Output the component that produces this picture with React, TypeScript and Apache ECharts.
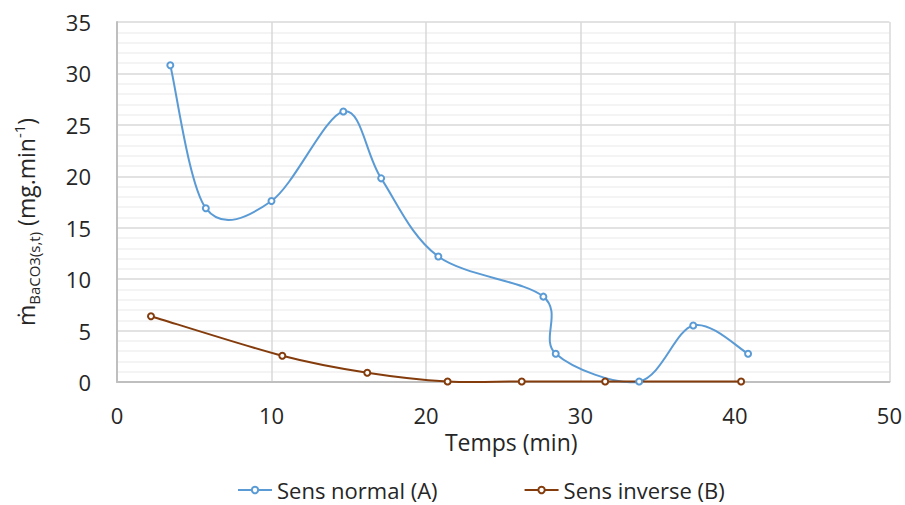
import React, { useEffect, useRef } from "react";
import * as echarts from "echarts";

const normalX = [3.45, 5.75, 10.0, 14.65, 17.1, 20.8, 27.6, 28.4, 33.8, 37.3, 40.85];
const normalY = [30.8, 16.9, 17.6, 26.3, 19.8, 12.2, 8.3, 2.75, 0.05, 5.5, 2.75];
const inverseX = [2.2, 10.7, 16.2, 21.4, 26.2, 31.6, 40.4];
const inverseY = [6.4, 2.55, 0.9, 0.05, 0.05, 0.05, 0.05];
const seriesNames = ["Sens normal (A)", "Sens inverse (B)"];
const seriesColors = ["#5B9BD5", "#843C0C"];
const xTitle = "Temps (min)";

const FONT = "'Open Sans', sans-serif";

type Pt = number[];

// Excel-like smoothed segment (Bezier with 1/6 tension, capped at half the segment)
function excelSegment(pts: Pt[], idx: number) {
  const n = pts.length;
  const p0 = pts[Math.max(idx - 2, 0)];
  const p1 = pts[idx - 1];
  const p2 = pts[idx];
  const p3 = pts[Math.min(idx + 1, n - 1)];
  const d = (a: Pt, b: Pt) => Math.hypot(a[0] - b[0], a[1] - b[1]);
  const d12 = d(p1, p2);
  const d02 = d(p0, p2);
  const d13 = d(p1, p3);
  let f1 = 1 / 6;
  let f2 = 1 / 6;
  if (d02 > 0 && d02 / 6 > d12 / 2) f1 = d12 / (2 * d02);
  if (d13 > 0 && d13 / 6 > d12 / 2) f2 = d12 / (2 * d13);
  const c1 = [p1[0] + f1 * (p2[0] - p0[0]), p1[1] + f1 * (p2[1] - p0[1])];
  const c2 = [p2[0] - f2 * (p3[0] - p1[0]), p2[1] - f2 * (p3[1] - p1[1])];
  return `M${p1[0]},${p1[1]} C${c1[0]},${c1[1]} ${c2[0]},${c2[1]} ${p2[0]},${p2[1]}`;
}

export default function App() {
  const ref = useRef<HTMLDivElement>(null);
  useEffect(() => {
    if (!ref.current) return;
    const chart = echarts.init(ref.current, undefined, { renderer: "svg" });
    const pair = (xs: number[], ys: number[]) => xs.map((x, i) => [x, ys[i]]);
    const curve = (xs: number[], ys: number[], color: string, z: number) => ({
      type: "custom",
      coordinateSystem: "cartesian2d",
      silent: true,
      z,
      data: pair(xs, ys),
      encode: { x: 0, y: 1 },
      renderItem: (params: any, api: any) => {
        const idx = params.dataIndex;
        if (idx === 0) return null;
        const pts = xs.map((x, i) => api.coord([x, ys[i]]));
        return {
          type: "path",
          shape: { pathData: excelSegment(pts, idx) },
          style: { fill: "none", stroke: color, lineWidth: 2 },
        };
      },
    });
    const markers = (name: string, xs: number[], ys: number[], color: string, z: number) => ({
      name,
      type: "line",
      data: pair(xs, ys),
      symbol: "emptyCircle",
      symbolSize: 6,
      color,
      lineStyle: { color, width: 0 },
      itemStyle: { color, borderWidth: 1.5 },
      z,
    });
    chart.setOption({
      animation: false,
      backgroundColor: "#ffffff",
      textStyle: { fontFamily: FONT },
      grid: { left: 117, right: 14, top: 22, bottom: 123, containLabel: false },
      legend: {
        top: 474,
        left: 232,
        itemWidth: 34,
        itemHeight: 8,
        itemGap: 86,
        textStyle: { fontFamily: FONT, fontSize: 22, color: "#262626" },
        data: seriesNames.map((name, i) => ({
          name,
          lineStyle: { color: seriesColors[i], width: 2, opacity: 1 },
        })),
      },
      xAxis: {
        type: "value",
        min: 0,
        max: 50,
        interval: 10,
        name: xTitle,
        nameLocation: "middle",
        nameGap: 47,
        nameTextStyle: { fontFamily: FONT, fontSize: 23, color: "#262626", padding: [0, 0, 0, 16] },
        axisLine: { show: true, lineStyle: { color: "#bfbfbf", width: 2 } },
        axisTick: { show: false },
        axisLabel: { fontFamily: FONT, fontSize: 22, color: "#262626", margin: 22 },
        splitLine: { show: true, lineStyle: { color: "#d9d9d9", width: 1.5 } },
      },
      yAxis: {
        type: "value",
        min: 0,
        max: 35,
        interval: 5,
        axisLine: { show: true, lineStyle: { color: "#bfbfbf", width: 2 } },
        axisTick: { show: false },
        axisLabel: { fontFamily: FONT, fontSize: 22, color: "#262626", margin: 26 },
        splitLine: { show: true, lineStyle: { color: "#d9d9d9", width: 1.5 } },
        minorTick: { show: false, splitNumber: 5 },
        minorSplitLine: { show: true, lineStyle: { color: "#f0f0f0", width: 1.5 } },
      },
      graphic: [
        {
          type: "text",
          x: 26,
          y: 222,
          rotation: Math.PI / 2,
          style: {
            text: "{m|ṁ}{sub|BaCO3(s,t)}{m| (mg.min}{sup|-1}{m|)}",
            align: "center",
            verticalAlign: "middle",
            fill: "#262626",
            rich: {
              m: { fontFamily: FONT, fontSize: 23, fill: "#262626", lineHeight: 30, verticalAlign: "middle" },
              sub: { fontFamily: FONT, fontSize: 15, fill: "#262626", lineHeight: 30, verticalAlign: "bottom" },
              sup: { fontFamily: FONT, fontSize: 15, fill: "#262626", lineHeight: 30, verticalAlign: "top" },
            },
          },
        },
      ],
      series: [
        curve(normalX, normalY, seriesColors[0], 3),
        curve(inverseX, inverseY, seriesColors[1], 4),
        markers(seriesNames[0], normalX, normalY, seriesColors[0], 5),
        markers(seriesNames[1], inverseX, inverseY, seriesColors[1], 6),
      ],
    });
    return () => chart.dispose();
  }, []);
  return (
    <div
      ref={ref}
      style={{ position: "absolute", left: 0, top: 0, width: 905, height: 505 }}
    />
  );
}
